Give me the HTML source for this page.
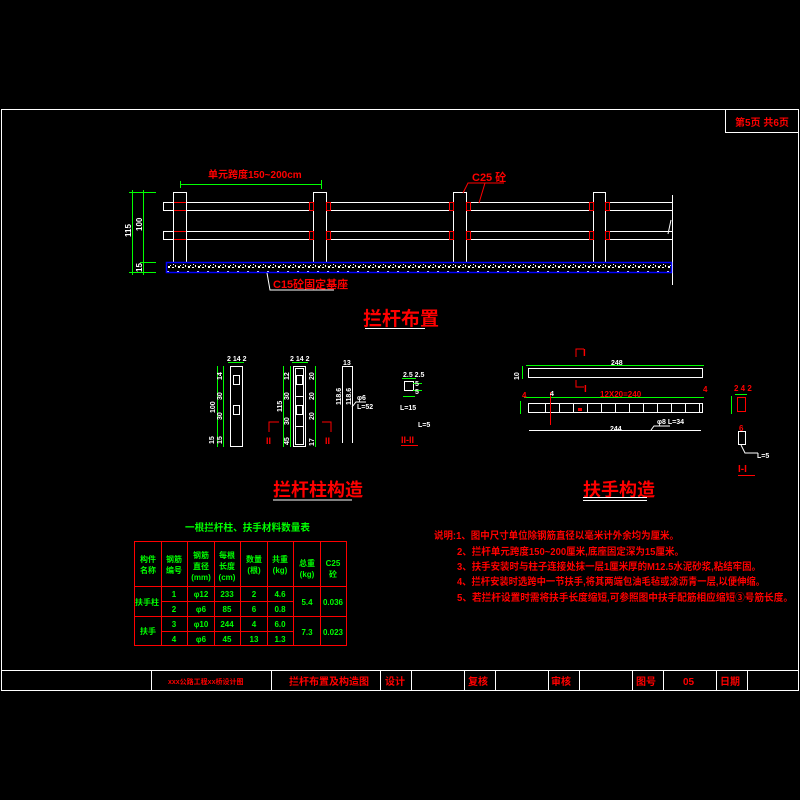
<!DOCTYPE html>
<html><head><meta charset="utf-8"><style>
html,body{margin:0;padding:0;background:#000;width:800px;height:800px;overflow:hidden}
svg{display:block}
text{font-family:"Liberation Sans","Noto Sans CJK SC",sans-serif;font-weight:bold}
</style></head><body>
<svg width="800" height="800" viewBox="0 0 800 800" xmlns="http://www.w3.org/2000/svg">
<defs>
<pattern id="sp" width="10" height="10" patternUnits="userSpaceOnUse">
<rect x="1" y="2" width="2" height="1" fill="#fff"/><rect x="5" y="5" width="1" height="2" fill="#fff"/>
<rect x="7" y="1" width="2" height="1" fill="#fff"/><rect x="8" y="6" width="2" height="2" fill="#fff"/>
<rect x="2" y="7" width="2" height="1" fill="#fff"/><rect x="5" y="2" width="1" height="1" fill="#fff"/>
<rect x="0" y="5" width="1" height="1" fill="#fff"/><rect x="3" y="4" width="1" height="1" fill="#fff"/>
</pattern>
</defs>
<!-- frame -->
<rect x="1.5" y="109.5" width="797" height="581" fill="none" stroke="#fff" stroke-width="1"/>
<polyline points="725.5,109.5 725.5,132.5 798.5,132.5" fill="none" stroke="#fff"/>
<text x="735" y="126" fill="#f00" font-size="10">第5页 共6页</text>

<!-- layout -->
<g stroke="#fff" fill="none" stroke-width="1">
<line x1="163" y1="202.5" x2="672" y2="202.5"/><line x1="163" y1="210.5" x2="672" y2="210.5"/>
<line x1="163" y1="231.5" x2="672" y2="231.5"/><line x1="163" y1="239.5" x2="672" y2="239.5"/>
<line x1="163.5" y1="202" x2="163.5" y2="211"/><line x1="163.5" y1="231" x2="163.5" y2="240"/>
<line x1="672.5" y1="195" x2="672.5" y2="285"/>
</g>
<g stroke="#fff" fill="#000" stroke-width="1">
<rect x="173.5" y="192.5" width="13" height="70"/>
<rect x="313.5" y="192.5" width="13" height="70"/>
<rect x="453.5" y="192.5" width="13" height="70"/>
<rect x="593.5" y="192.5" width="12" height="70"/>
</g>
<g stroke="#f00" fill="none" stroke-width="1">
<line x1="174" y1="202.5" x2="186" y2="202.5"/><line x1="174" y1="210.5" x2="186" y2="210.5"/>
<line x1="174" y1="231.5" x2="186" y2="231.5"/><line x1="174" y1="239.5" x2="186" y2="239.5"/>
<rect x="309.5" y="202.5" width="4" height="8"/><rect x="326.5" y="202.5" width="4" height="8"/>
<rect x="309.5" y="231.5" width="4" height="8"/><rect x="326.5" y="231.5" width="4" height="8"/>
<rect x="449.5" y="202.5" width="4" height="8"/><rect x="466.5" y="202.5" width="4" height="8"/>
<rect x="449.5" y="231.5" width="4" height="8"/><rect x="466.5" y="231.5" width="4" height="8"/>
<rect x="589.5" y="202.5" width="4" height="8"/><rect x="605.5" y="202.5" width="4" height="8"/>
<rect x="589.5" y="231.5" width="4" height="8"/><rect x="605.5" y="231.5" width="4" height="8"/>
<polyline points="463,193 468,183 504,183"/><line x1="485" y1="183" x2="479" y2="203"/>
</g>
<line x1="671" y1="220" x2="668" y2="234" stroke="#fff"/>
<rect x="166.5" y="262.5" width="505" height="10" fill="url(#sp)" stroke="#00f" stroke-width="1.5"/>
<polyline points="267,273 270,290 334,290" fill="none" stroke="#fff"/>
<text x="273" y="288" fill="#f00" font-size="11">C15砼固定基座</text>
<text x="472" y="181" fill="#f00" font-size="11">C25 砼</text>
<text x="208" y="178" fill="#f00" font-size="10">单元跨度150~200cm</text>
<g stroke="#0f0" stroke-width="1">
<line x1="180" y1="184.5" x2="322" y2="184.5"/><line x1="180.5" y1="181" x2="180.5" y2="188"/><line x1="321.5" y1="180" x2="321.5" y2="189"/>
<line x1="132.5" y1="190" x2="132.5" y2="275"/><line x1="143.5" y1="190" x2="143.5" y2="275"/>
<line x1="129" y1="192.5" x2="156" y2="192.5"/><line x1="140" y1="262.5" x2="156" y2="262.5"/><line x1="129" y1="272.5" x2="156" y2="272.5"/>
</g>
<g fill="#fff" font-size="8" font-weight="normal">
<text transform="translate(131,237) rotate(-90)">115</text>
<text transform="translate(142,231) rotate(-90)">100</text>
<text transform="translate(142,272) rotate(-90)">15</text>
</g>
<text x="363" y="325" fill="#f00" font-size="19">拦杆布置</text>
<line x1="365" y1="328.5" x2="425" y2="328.5" stroke="#fff"/>

<!-- post construction -->
<g stroke="#fff" fill="none" stroke-width="1">
<rect x="230.5" y="366.5" width="12" height="80"/>
<rect x="233.5" y="375.5" width="6" height="9"/><rect x="233.5" y="405.5" width="6" height="9"/>
<rect x="293.5" y="366.5" width="12" height="80"/><rect x="295.5" y="368.5" width="8" height="76"/>
<rect x="296.5" y="375.5" width="6" height="9"/><rect x="296.5" y="405.5" width="6" height="9"/>
<line x1="295" y1="396.5" x2="304" y2="396.5"/><line x1="295" y1="426.5" x2="304" y2="426.5"/>
<polyline points="342.5,443 342.5,366.5 352.5,366.5 352.5,443"/>
<rect x="404.5" y="381.5" width="9" height="9"/>
<polyline points="352,407 356,402 366,402"/>
</g>
<g stroke="#0f0" stroke-width="1">
<line x1="217.5" y1="366" x2="217.5" y2="447"/><line x1="223.5" y1="366" x2="223.5" y2="447"/>
<line x1="228" y1="362.5" x2="244" y2="362.5"/>
<line x1="283.5" y1="366" x2="283.5" y2="447"/><line x1="290.5" y1="366" x2="290.5" y2="447"/>
<line x1="315.5" y1="366" x2="315.5" y2="447"/><line x1="292" y1="362.5" x2="308" y2="362.5"/>
<line x1="402" y1="378.5" x2="416" y2="378.5"/><line x1="413" y1="383.5" x2="422" y2="383.5"/><line x1="413" y1="390.5" x2="422" y2="390.5"/>
<line x1="403" y1="396.5" x2="415" y2="396.5"/>
</g>
<g fill="#fff" font-size="7" font-weight="normal">
<text x="227" y="361">2 14 2</text><text x="290" y="361">2 14 2</text><text x="343" y="365">13</text>
<text transform="translate(215,413) rotate(-90)">100</text>
<text transform="translate(222,380) rotate(-90)">14</text><text transform="translate(222,400) rotate(-90)">30</text>
<text transform="translate(222,420) rotate(-90)">30</text><text transform="translate(222,444) rotate(-90)">15</text>
<text transform="translate(214,444) rotate(-90)">15</text>
<text transform="translate(282,412) rotate(-90)">115</text>
<text transform="translate(289,380) rotate(-90)">12</text><text transform="translate(289,400) rotate(-90)">30</text>
<text transform="translate(289,425) rotate(-90)">30</text><text transform="translate(289,445) rotate(-90)">45</text>
<text transform="translate(314,380) rotate(-90)">20</text><text transform="translate(314,400) rotate(-90)">20</text>
<text transform="translate(314,420) rotate(-90)">20</text><text transform="translate(314,446) rotate(-90)">17</text>
<text transform="translate(341,405) rotate(-90)">118.6</text><text transform="translate(351,405) rotate(-90)">118.6</text>
<text x="357" y="400">φ6</text><text x="357" y="409">L=52</text>
<text x="403" y="377">2.5 2.5</text><text x="415" y="386">5</text><text x="415" y="394">5</text>
<text x="400" y="410">L=15</text><text x="418" y="427">L=5</text>
</g>
<g stroke="#f00" fill="none"><polyline points="269,432 269,422 279,422"/><polyline points="322,422 331,422 331,432"/></g>
<g fill="#f00" font-size="9"><text x="266" y="444">II</text><text x="325" y="444">II</text><text x="401" y="443">II-II</text></g>
<line x1="401" y1="445.5" x2="418" y2="445.5" stroke="#f00"/>
<text x="273" y="496" fill="#f00" font-size="18">拦杆柱构造</text>
<line x1="273" y1="500" x2="352" y2="500" stroke="#fff"/>

<!-- handrail -->
<g stroke="#fff" fill="none" stroke-width="1">
<rect x="528.5" y="368.5" width="174" height="9"/>
<rect x="528.5" y="403.5" width="174" height="9"/>
<line x1="529" y1="430.5" x2="701" y2="430.5"/>
<rect x="738.5" y="431.5" width="7" height="13"/>
<polyline points="651,430 654,426 670,426"/>
<polyline points="741,445 745,453 758,453"/>
</g>
<g stroke="#fff" stroke-width="1">
<line x1="545.5" y1="403" x2="545.5" y2="412"/><line x1="559.5" y1="403" x2="559.5" y2="412"/>
<line x1="573.5" y1="403" x2="573.5" y2="412"/><line x1="587.5" y1="403" x2="587.5" y2="412"/>
<line x1="601.5" y1="403" x2="601.5" y2="412"/><line x1="615.5" y1="403" x2="615.5" y2="412"/>
<line x1="629.5" y1="403" x2="629.5" y2="412"/><line x1="643.5" y1="403" x2="643.5" y2="412"/>
<line x1="657.5" y1="403" x2="657.5" y2="412"/><line x1="671.5" y1="403" x2="671.5" y2="412"/>
<line x1="685.5" y1="403" x2="685.5" y2="412"/><line x1="699.5" y1="403" x2="699.5" y2="412"/>
</g>
<g stroke="#0f0" stroke-width="1">
<line x1="526" y1="365.5" x2="704" y2="365.5"/><line x1="524" y1="397.5" x2="704" y2="397.5"/>
<line x1="522.5" y1="366" x2="522.5" y2="379"/><line x1="520.5" y1="401" x2="520.5" y2="414"/>
<line x1="735" y1="394.5" x2="747" y2="394.5"/><line x1="731.5" y1="396" x2="731.5" y2="414"/>
</g>
<rect x="737.5" y="397.5" width="8" height="14" fill="none" stroke="#f00"/>
<line x1="550.5" y1="392" x2="550.5" y2="425" stroke="#f00"/>
<rect x="578" y="408" width="4" height="3" fill="#f00"/>
<g fill="#f00" font-size="8"><text x="600" y="397">12X20=240</text><text x="703" y="392">4</text><text x="734" y="391">2 4 2</text>
<text x="739" y="431">6</text><text x="522" y="398">4</text></g>
<g fill="#fff" font-size="7" font-weight="normal">
<text x="611" y="365">248</text><text x="610" y="431">244</text><text x="657" y="424">φ8 L=34</text>
<text transform="translate(519,380) rotate(-90)">10</text><text x="550" y="396">4</text><text x="757" y="458">L=5</text>
</g>
<g stroke="#f00" fill="none"><polyline points="576,357 576,349 584,349"/><polyline points="576,380 576,387 584,387"/></g>
<g fill="#f00" font-size="10"><text x="583" y="356">I</text><text x="584" y="392">I</text><text x="738" y="472">I-I</text></g>
<line x1="738" y1="475.5" x2="755" y2="475.5" stroke="#f00"/>
<text x="583" y="496" fill="#f00" font-size="18">扶手构造</text>
<line x1="583" y1="497.5" x2="647" y2="497.5" stroke="#fff"/><line x1="583" y1="500.5" x2="647" y2="500.5" stroke="#fff"/>

<!-- table -->
<text x="185" y="531" fill="#0f0" font-size="10" textLength="125" lengthAdjust="spacingAndGlyphs">一根拦杆柱、扶手材料数量表</text>
<g stroke="#f00" fill="none" stroke-width="1">
<rect x="134.5" y="541.5" width="212" height="104"/>
<line x1="161.5" y1="541" x2="161.5" y2="646"/><line x1="187.5" y1="541" x2="187.5" y2="646"/>
<line x1="214.5" y1="541" x2="214.5" y2="646"/><line x1="240.5" y1="541" x2="240.5" y2="646"/>
<line x1="267.5" y1="541" x2="267.5" y2="646"/><line x1="293.5" y1="541" x2="293.5" y2="646"/>
<line x1="320.5" y1="541" x2="320.5" y2="646"/>
<line x1="134" y1="586.5" x2="347" y2="586.5"/><line x1="134" y1="616.5" x2="347" y2="616.5"/>
<line x1="161" y1="601.5" x2="293" y2="601.5"/><line x1="161" y1="631.5" x2="293" y2="631.5"/>
</g>
<g fill="#0f0" font-size="8" text-anchor="middle">
<text x="148" y="562">构件</text><text x="148" y="573">名称</text>
<text x="174" y="562">钢筋</text><text x="174" y="573">编号</text>
<text x="201" y="558">钢筋</text><text x="201" y="569">直径</text><text x="201" y="580">(mm)</text>
<text x="227" y="558">每根</text><text x="227" y="569">长度</text><text x="227" y="580">(cm)</text>
<text x="254" y="562">数量</text><text x="254" y="573">(根)</text>
<text x="280" y="562">共重</text><text x="280" y="573">(kg)</text>
<text x="307" y="566">总重</text><text x="307" y="577">(kg)</text>
<text x="333" y="566">C25</text><text x="333" y="577">砼</text>
<text x="147" y="605">扶手柱</text><text x="148" y="634">扶手</text>
<text x="174" y="597">1</text><text x="201" y="597">φ12</text><text x="227" y="597">233</text><text x="254" y="597">2</text><text x="280" y="597">4.6</text>
<text x="174" y="612">2</text><text x="201" y="612">φ6</text><text x="227" y="612">85</text><text x="254" y="612">6</text><text x="280" y="612">0.8</text>
<text x="174" y="627">3</text><text x="201" y="627">φ10</text><text x="227" y="627">244</text><text x="254" y="627">4</text><text x="280" y="627">6.0</text>
<text x="174" y="642">4</text><text x="201" y="642">φ6</text><text x="227" y="642">45</text><text x="254" y="642">13</text><text x="280" y="642">1.3</text>
<text x="307" y="605">5.4</text><text x="333" y="605">0.036</text>
<text x="307" y="635">7.3</text><text x="333" y="635">0.023</text>
</g>

<!-- notes -->
<g fill="#f00" font-size="10" lengthAdjust="spacingAndGlyphs">
<text x="434" y="539" textLength="245" lengthAdjust="spacingAndGlyphs">说明:1、图中尺寸单位除钢筋直径以毫米计外余均为厘米。</text>
<text x="457" y="555" textLength="227" lengthAdjust="spacingAndGlyphs">2、拦杆单元跨度150~200厘米,底座固定深为15厘米。</text>
<text x="457" y="570" textLength="304" lengthAdjust="spacingAndGlyphs">3、扶手安装时与柱子连接处抹一层1厘米厚的M12.5水泥砂浆,粘结牢固。</text>
<text x="457" y="585" textLength="308" lengthAdjust="spacingAndGlyphs">4、拦杆安装时选跨中一节扶手,将其两端包油毛毡或涂沥青一层,以便伸缩。</text>
<text x="457" y="601" textLength="336" lengthAdjust="spacingAndGlyphs">5、若拦杆设置时需将扶手长度缩短,可参照图中扶手配筋相应缩短③号筋长度。</text>
</g>

<!-- title block -->
<g stroke="#fff" stroke-width="1">
<line x1="1" y1="670.5" x2="799" y2="670.5"/>
<line x1="151.5" y1="670" x2="151.5" y2="691"/><line x1="271.5" y1="670" x2="271.5" y2="691"/>
<line x1="380.5" y1="670" x2="380.5" y2="691"/><line x1="411.5" y1="670" x2="411.5" y2="691"/>
<line x1="464.5" y1="670" x2="464.5" y2="691"/><line x1="495.5" y1="670" x2="495.5" y2="691"/>
<line x1="548.5" y1="670" x2="548.5" y2="691"/><line x1="579.5" y1="670" x2="579.5" y2="691"/>
<line x1="632.5" y1="670" x2="632.5" y2="691"/><line x1="663.5" y1="670" x2="663.5" y2="691"/>
<line x1="716.5" y1="670" x2="716.5" y2="691"/><line x1="747.5" y1="670" x2="747.5" y2="691"/>
</g>
<g fill="#f00">
<text x="168" y="684" font-size="7">xxx公路工程xx桥设计图</text>
<text x="289" y="685" font-size="10">拦杆布置及构造图</text>
<text x="385" y="685" font-size="10">设计</text>
<text x="468" y="685" font-size="10">复核</text>
<text x="551" y="685" font-size="10">审核</text>
<text x="636" y="685" font-size="10">图号</text>
<text x="683" y="685" font-size="10">05</text>
<text x="720" y="685" font-size="10">日期</text>
</g>
</svg>
</body></html>
